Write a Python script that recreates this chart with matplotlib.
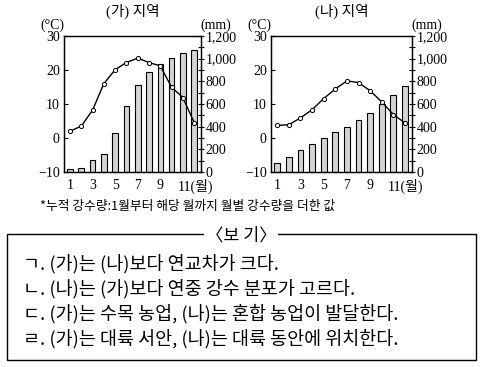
import numpy as np
import matplotlib.pyplot as plt
import matplotlib.transforms as mtransforms
from matplotlib.patches import Rectangle
from matplotlib.ticker import FuncFormatter, MultipleLocator

plt.rcParams['font.family'] = ['Liberation Serif', 'Noto Sans CJK KR']

months = np.arange(1, 13)
month_labels = ['1', '3', '5', '7', '9', '11(월)']

# (가) 지역
temp_a = [2.0, 3.5, 8.2, 16.0, 20.1, 22.2, 23.5, 22.2, 21.2, 14.9, 11.9, 4.5]
rain_a = [25, 32, 103, 159, 344, 582, 768, 882, 953, 1006, 1050, 1076]

# (나) 지역
temp_b = [3.7, 3.9, 5.9, 8.3, 11.6, 14.4, 16.8, 16.3, 13.9, 10.6, 6.9, 4.4]
rain_b = [76, 132, 191, 244, 300, 350, 397, 459, 521, 597, 679, 759]

titles = ['(가) 지역', '(나) 지역']

note = '*누적 강수량:1월부터 해당 월까지 월별 강수량을 더한 값'
box_title = '〈보 기〉'
items = [
    'ㄱ. (가)는 (나)보다 연교차가 크다.',
    'ㄴ. (나)는 (가)보다 연중 강수 분포가 고르다.',
    'ㄷ. (가)는 수목 농업, (나)는 혼합 농업이 발달한다.',
    'ㄹ. (가)는 대륙 서안, (나)는 대륙 동안에 위치한다.',
]

W, H = 483, 367
fig = plt.figure(figsize=(W / 100, H / 100), dpi=100)
kr = ['Noto Sans CJK KR', 'DejaVu Sans']


def px_axes(x0, y0, x1, y1):
    return fig.add_axes([x0 / W, 1 - y1 / H, (x1 - x0) / W, (y1 - y0) / H])


def draw_chart(x0, x1, temps, rains, title):
    ax = px_axes(x0, 36, x1, 172)
    ax2 = ax.twinx()
    ax.set_zorder(ax2.get_zorder() + 1)
    ax.patch.set_visible(False)

    ax2.bar(months, rains, width=0.5, color='#d4d4d4', edgecolor='black', linewidth=0.8)
    ax2.set_ylim(0, 1200)
    ax2.yaxis.set_major_locator(MultipleLocator(200))
    ax2.yaxis.set_minor_locator(MultipleLocator(100))
    ax2.yaxis.set_major_formatter(FuncFormatter(lambda v, p: f'{int(v):,}'))
    ax2.tick_params(axis='y', which='both', direction='inout', length=5, width=0.8,
                    labelsize=10, pad=1)

    ax.plot(months, temps, color='black', linewidth=1.0, marker='o', markersize=3,
            markerfacecolor='white', markeredgecolor='black', markeredgewidth=0.7)
    ax.set_ylim(-10, 30)
    ax.set_xlim(0.47, 12.6)
    ax.set_yticks([-10, 0, 10, 20, 30])
    ax.set_yticklabels(['\u221210', '0', '10', '20', '30'])
    ax.tick_params(axis='y', direction='in', length=3, width=0.8, labelsize=10, pad=3)
    ax.set_xticks([1, 3, 5, 7, 9, 11])
    ax.set_xticklabels(month_labels)
    ax.tick_params(axis='x', length=0, labelsize=10, pad=5)
    last = ax.get_xticklabels()[-1]
    last.set_horizontalalignment('left')
    last.set_transform(last.get_transform() +
                       mtransforms.ScaledTranslation(-4 / 72, 0, fig.dpi_scale_trans))
    for a in (ax, ax2):
        for s in a.spines.values():
            s.set_linewidth(0.9)

    cx = (x0 + x1) / 2
    fig.text(cx / W, 1 - 11 / H, title, ha='center', va='center', fontsize=10.5)
    fig.text((x0 - 12) / W, 1 - 25 / H, '(°C)', ha='center', va='center', fontsize=10)
    fig.text((x1 + 15) / W, 1 - 25 / H, '(mm)', ha='center', va='center', fontsize=10)


draw_chart(64, 201, temp_a, rain_a, titles[0])
draw_chart(271, 412, temp_b, rain_b, titles[1])

fig.text(40 / W, 1 - 206 / H, note, ha='left', va='center', fontsize=9.2, family=kr)

# 보기 box
box = Rectangle((7 / W, 1 - 360 / H), (476 - 7) / W, (360 - 234) / H,
                transform=fig.transFigure, fill=False, edgecolor='black', linewidth=1.0)
fig.add_artist(box)
fig.text(241 / W, 1 - 235 / H, box_title, ha='center', va='center', fontsize=12.5,
         family=kr, bbox=dict(facecolor='white', edgecolor='none', pad=1))
for i, t in enumerate(items):
    fig.text(23 / W, 1 - (264 + 25 * i) / H, t, ha='left', va='center', fontsize=13.3,
             family=kr)

fig.savefig('out.png', dpi=100)
